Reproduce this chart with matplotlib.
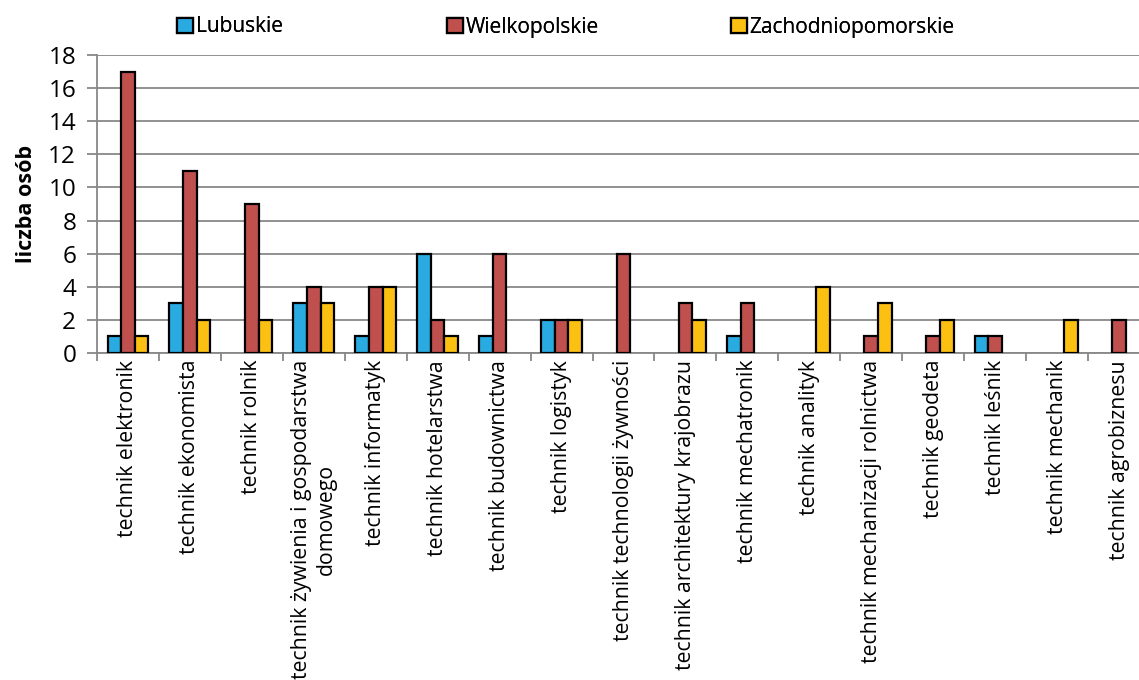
import matplotlib
matplotlib.use("Agg")
import matplotlib.pyplot as plt
import numpy as np

categories = [
    "technik elektronik", "technik ekonomista", "technik rolnik",
    "technik żywienia i gospodarstwa\ndomowego", "technik informatyk",
    "technik hotelarstwa", "technik budownictwa", "technik logistyk",
    "technik technologii żywności", "technik architektury krajobrazu",
    "technik mechatronik", "technik analityk", "technik mechanizacji rolnictwa",
    "technik geodeta", "technik leśnik", "technik mechanik", "technik agrobiznesu",
]
series_names = ["Lubuskie", "Wielkopolskie", "Zachodniopomorskie"]
lubuskie = [1, 3, 0, 3, 1, 6, 1, 2, 0, 0, 1, 0, 0, 0, 1, 0, 0]
wielkopolskie = [17, 11, 9, 4, 4, 2, 6, 2, 6, 3, 3, 0, 1, 1, 1, 0, 2]
zachodniopomorskie = [1, 2, 2, 3, 4, 1, 0, 2, 0, 2, 0, 4, 3, 2, 0, 2, 0]
y_ticks = [0, 2, 4, 6, 8, 10, 12, 14, 16, 18]
y_label = "liczba osób"

colors = ["#29ABE2", "#C0504D", "#FCC012"]
plt.rcParams['font.family'] = ['Open Sans', 'DejaVu Sans']

W, H = 1139, 680
fig = plt.figure(figsize=(W / 100, H / 100), dpi=100)
ax = fig.add_axes([97 / W, 1 - 353 / H, (1150 - 97) / W, (353 - 55) / H])

x = np.arange(len(categories)) + 0.5
bw = 0.22
handles = []
for k, (vals, name) in enumerate(zip([lubuskie, wielkopolskie, zachodniopomorskie], series_names)):
    bars = ax.bar(x + (k - 1) * bw, vals, width=bw, color=colors[k], edgecolor="black",
                  linewidth=1.6, label=name, zorder=3)
    for p, v in zip(bars.patches, vals):
        if v == 0:
            p.set_visible(False)
    handles.append(bars)

ax.set_xlim(0, len(categories))
ax.set_ylim(0, 18)
ax.set_yticks(y_ticks)
ax.tick_params(axis="y", labelsize=17.5, length=7, width=1.3, color="#888888", pad=8)
ax.yaxis.grid(True, color="#888888", linewidth=1.3, zorder=0)
ax.set_axisbelow(True)

ax.set_xticks(np.arange(len(categories) + 1))
ax.set_xticklabels([])
ax.tick_params(axis="x", which="major", length=6, width=1.3, color="#888888")
ax.set_xticks(x, minor=True)
ax.set_xticklabels(categories, minor=True, rotation=90, fontsize=15.3,
                   ha="center", va="top", multialignment="center")
ax.tick_params(axis="x", which="minor", length=0, pad=5)

for s in ["top", "right"]:
    ax.spines[s].set_visible(False)
for s in ["left", "bottom"]:
    ax.spines[s].set_color("#888888")
    ax.spines[s].set_linewidth(1.3)

ax.set_ylabel(y_label, fontsize=15.5, fontweight="bold", labelpad=8)

leg_x = [177, 447, 731]
for h, name, lx in zip(handles, series_names, leg_x):
    leg = fig.legend([h], [name], loc="center left", bbox_to_anchor=(lx / W, 1 - 27 / H),
                     frameon=False, fontsize=15, handlelength=0.75, handleheight=0.75,
                     handletextpad=0.15, borderaxespad=0, borderpad=0)
    fig.add_artist(leg)

fig.savefig("out.png", dpi=100)
